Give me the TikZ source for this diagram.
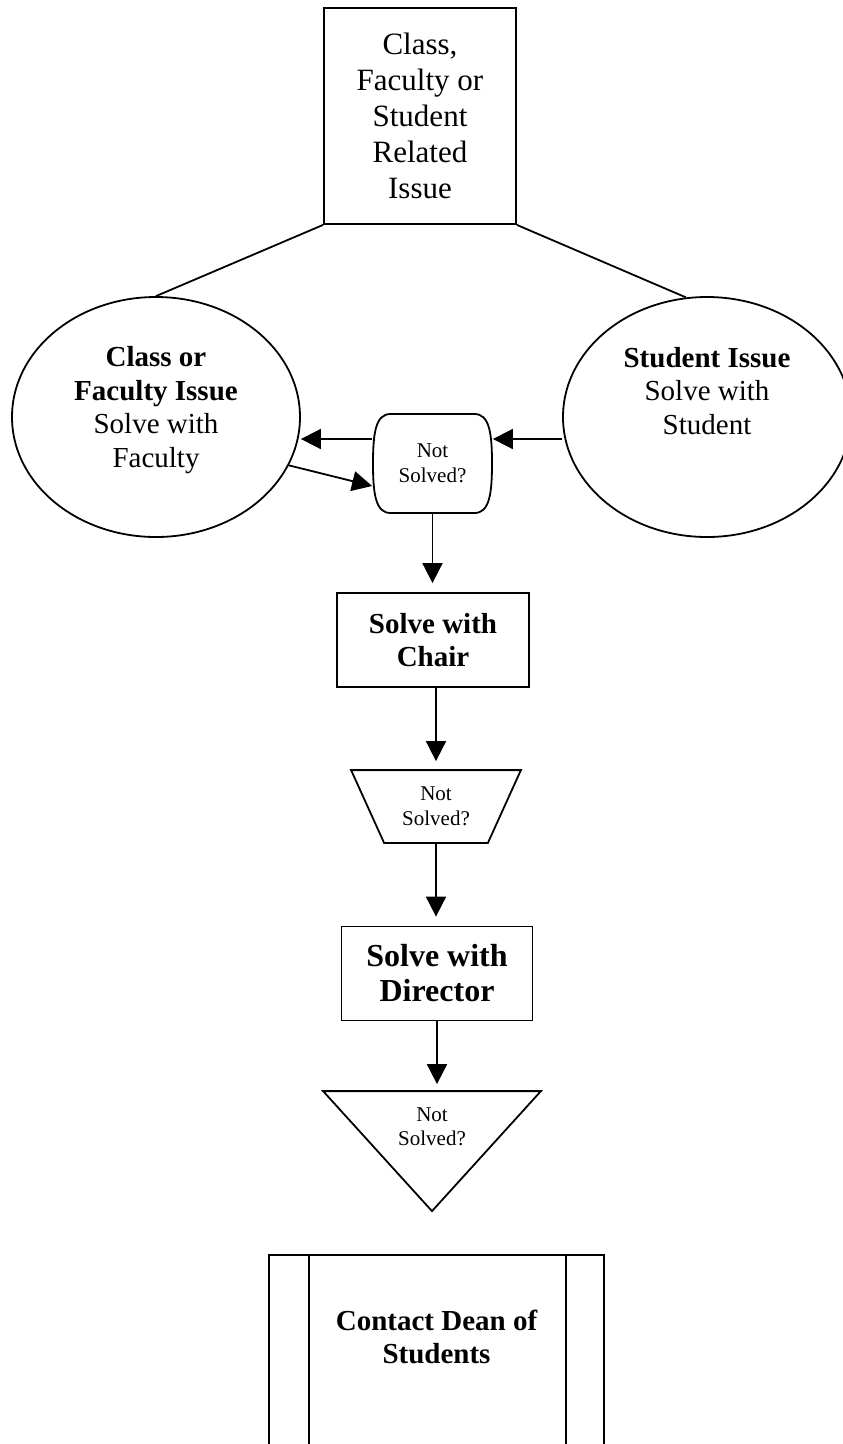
\documentclass[tikz,border=0pt]{standalone}
\usepackage{fontspec}
\setmainfont{Liberation Serif}
\usetikzlibrary{shapes.geometric}
\usetikzlibrary{arrows.meta}

\tikzset{
  box/.style={draw,rectangle,inner sep=0pt,align=center},
  oval/.style={draw,ellipse,inner sep=0pt,minimum width=288pt,minimum height=240pt},
  ovaltext/.style={align=center,inner sep=0pt,font=\fontsize{29}{33.5}\selectfont},
  asktext/.style={align=center,inner sep=0pt,font=\fontsize{21}{24.5}\selectfont},
  boldbox/.style 2 args={box,font=\bfseries\fontsize{#1}{#2}\selectfont},
}

\begin{document}
\begin{tikzpicture}[x=1pt,y=-1pt,line width=1.8pt,>={Triangle[length=20pt,width=20pt]}]
  \path[use as bounding box,fill=white] (0,0) rectangle (843,1444);
  \clip (0,0) rectangle (843,1444);

  \node[box,minimum width=192pt,minimum height=216pt,font=\fontsize{31}{36}\selectfont] (issue) at (420,116) {Class,\\Faculty or\\Student\\Related\\Issue};

  \node[oval] (faculty) at (156,417) {};
  \node[oval] (student) at (707,417) {};
  \node[ovaltext] (facultytext) at (156,410) {\textbf{Class or}\\\textbf{Faculty Issue}\\Solve with\\Faculty};
  \node[ovaltext] (studenttext) at (707,391) {\textbf{Student Issue}\\Solve with\\Student};
  \draw (issue.south west) -- (faculty.north);
  \draw (issue.south east) -- (student.100);

  % first check
  \node[asktext,minimum width=119pt,minimum height=99pt] (ask1) at (432.5,463.5) {Not\\Solved?};
  \draw[shift={(ask1.center)}] (-42,-49.5) -- (42,-49.5)
    .. controls (57,-49.5) and (59.5,-30) .. (59.5,0)
    .. controls (59.5,30) and (57,49.5) .. (42,49.5) -- (-42,49.5)
    .. controls (-57,49.5) and (-59.5,30) .. (-59.5,0)
    .. controls (-59.5,-30) and (-57,-49.5) .. cycle;
  \draw[->] ([yshift=24.5pt]ask1.west) -- ([yshift=-22pt]faculty.east);
  \draw[->] ([yshift=-22pt]student.west) -- ([yshift=24.5pt]ask1.east);
  \draw[->] (faculty.-20) -- ([yshift=-22.5pt]ask1.west);

  \node[boldbox={29}{33},minimum width=192pt,minimum height=94pt] (chair) at (433,640) {Solve with\\Chair};
  \draw[->,shorten >=9pt] (ask1.south) -- (ask1.south |- chair.north);

  % second check
  \node[asktext,minimum width=168pt,minimum height=71pt] (ask2) at (436,806.5) {Not\\Solved?};
  \draw (ask2.north west) -- (ask2.north east) -- ([xshift=-33pt]ask2.south east) -- ([xshift=33pt]ask2.south west) -- cycle;
  \draw[->,shorten >=9pt] (ask2.north |- chair.south) -- (ask2.north);

  \node[boldbox={32}{35},minimum width=191pt,minimum height=94pt] (director) at (437,973.5) {Solve with\\Director};
  \draw[->,shorten >=9pt] (ask2.south) -- (ask2.south |- director.north);

  % third check
  \node[asktext,minimum width=216pt,minimum height=70pt] (ask3) at (432,1127) {Not\\Solved?};
  \draw (ask3.north west) -- (ask3.north east) -- ([yshift=-120pt]ask3.north) -- cycle;
  \draw[->,shorten >=7pt] (director.south) -- (director.south |- ask3.north);

  \node[box,minimum width=335pt,minimum height=300pt] (dean) at (436.5,1405) {};
  \draw ([xshift=41pt]dean.north west) -- ([xshift=41pt]dean.south west);
  \draw ([xshift=-39pt]dean.north east) -- ([xshift=-39pt]dean.south east);
  \node[align=center,inner sep=0pt,font=\bfseries\fontsize{29}{33}\selectfont] (deantext) at (436.5,1337) {Contact Dean of\\Students};
\end{tikzpicture}
\end{document}
